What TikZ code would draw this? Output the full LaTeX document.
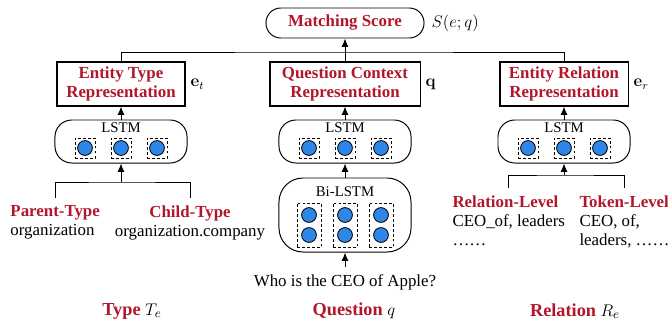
\documentclass[tikz,border=0pt]{standalone}
\usepackage[no-math]{fontspec}
\setmainfont{Liberation Serif}
\usepackage{amsmath}
\usetikzlibrary{arrows.meta, positioning}
\definecolor{scorered}{RGB}{178,22,42}
\definecolor{cellblue}{RGB}{45,135,232}

\begin{document}
\begin{tikzpicture}[x=0.025cm, y=-0.025cm, >={Latex[length=6pt,width=5pt]}, line width=0.7pt,
  font=\fontsize{12}{13.5}\selectfont,
  rep/.style={draw, line width=0.75pt, minimum height=1.1cm, align=center, text=scorered,
    font=\fontsize{12}{14}\selectfont\bfseries, inner sep=1pt},
  pill/.style={draw, minimum width=3.3cm, minimum height=1.075cm, rounded corners=0.42cm},
  cell/.style={circle, draw, fill=cellblue, minimum size=0.37cm, inner sep=0pt, line width=0.6pt},
  cellbox/.style={draw, dash pattern=on 2pt off 1.5pt, minimum size=0.5cm, inner sep=0pt, line width=0.6pt},
  cellcol/.style={cellbox, minimum width=0.6cm, minimum height=1.1cm},
  layername/.style={font=\fontsize{10.5}{12}\selectfont},
  inputtext/.style={inner xsep=0pt, inner ysep=5pt},
  sidename/.style={font=\fontsize{13}{15}\selectfont\bfseries}
]
  \useasboundingbox (0,0) rectangle (668,322);

  % Matching score on top
  \node[draw, minimum width=3.95cm, minimum height=0.75cm, rounded corners=0.37cm, text=scorered,
    font=\fontsize{12}{14}\selectfont\bfseries] (score) at (345,23) {Matching Score};
  \node[right=0.05cm of score] (scorelab) {$S(e;q)$};

  % Representations
  \node[rep, minimum width=3.2cm] (trep) at (121,84) {Entity Type\\Representation};
  \node[rep, minimum width=3.75cm] (qrep) at (345,84) {Question Context\\Representation};
  \node[rep, minimum width=3.2cm] (rrep) at (564,84) {Entity Relation\\Representation};
  \node[right=0pt of trep] (tvec) {$\mathbf{e}_t$};
  \node[right=0pt of qrep] (qvec) {$\mathbf{q}$};
  \node[right=0pt of rrep] (rvec) {$\mathbf{e}_r$};

  \coordinate (scorejoin) at (345,52);
  \draw (trep.north) |- (scorejoin) -| (rrep.north);
  \draw[->] (qrep.north) -- (score.south);

  % LSTM layers
  \foreach \c/\cx in {t/121, q/345, r/564} {
    \node[pill] (\c lstm) at (\cx,141.5) {};
    \node[layername] (\c lstmname) at (\cx,128) {LSTM};
    \foreach \dx [count=\i] in {-36,0,36} {
      \node[cellbox] (\c box\i) at (\cx+\dx,148) {};
      \node[cell] (\c cell\i) at (\cx+\dx,148) {};
    }
    \draw[->] (\c lstm.north) -- (\c rep.south);
  }

  % Bi-LSTM over the question
  \node[pill, minimum height=1.85cm, rounded corners=0.6cm] (bilstm) at (345,215) {};
  \node[layername] (bilstmname) at (345,192) {Bi-LSTM};
  \foreach \dx [count=\i] in {-36,0,36} {
    \node[cellcol] (qcol\i) at (345+\dx,225) {};
    \node[cell] (qtop\i) at (345+\dx,215) {};
    \node[cell] (qbot\i) at (345+\dx,235) {};
  }
  \draw[->] (bilstm.north) -- (qlstm.south);
  \node[inner sep=5pt] (quest) at (345,282) {Who is the CEO of Apple?};
  \draw[->] (quest.north) -- (bilstm.south);

  % Type inputs
  \node[inputtext, align=left, anchor=north west] (parent) at (10,198)
    {\textcolor{scorered}{\bfseries Parent-Type}\\organization};
  \node[inputtext, align=center, anchor=north] (child) at (190,198)
    {\textcolor{scorered}{\bfseries Child-Type}\\organization.company};
  \coordinate (typejoin) at (121,182);
  \draw (parent.north) |- (typejoin) -| (child.north);
  \draw[->] (typejoin) -- (tlstm.south);

  % Relation inputs
  \node[inputtext, align=left, anchor=north west] (rellevel) at (452,188)
    {\textcolor{scorered}{\bfseries Relation-Level}\\CEO\_of, leaders\\……};
  \node[inputtext, align=left, anchor=north west] (toklevel) at (579,188)
    {\textcolor{scorered}{\bfseries Token-Level}\\CEO, of,\\leaders, ……};
  \coordinate (reljoin) at (564,175);
  \draw (rellevel.north) |- (reljoin) -| (toklevel.north);
  \draw[->] (reljoin) -- (rlstm.south);

  % Column names
  \node[sidename] (typelab) at (132,311) {\textcolor{scorered}{Type} $T_e$};
  \node[sidename] (questlab) at (354,311) {\textcolor{scorered}{Question} $q$};
  \node[sidename] (rellab) at (575,311) {\textcolor{scorered}{Relation} $R_e$};
\end{tikzpicture}
\end{document}
